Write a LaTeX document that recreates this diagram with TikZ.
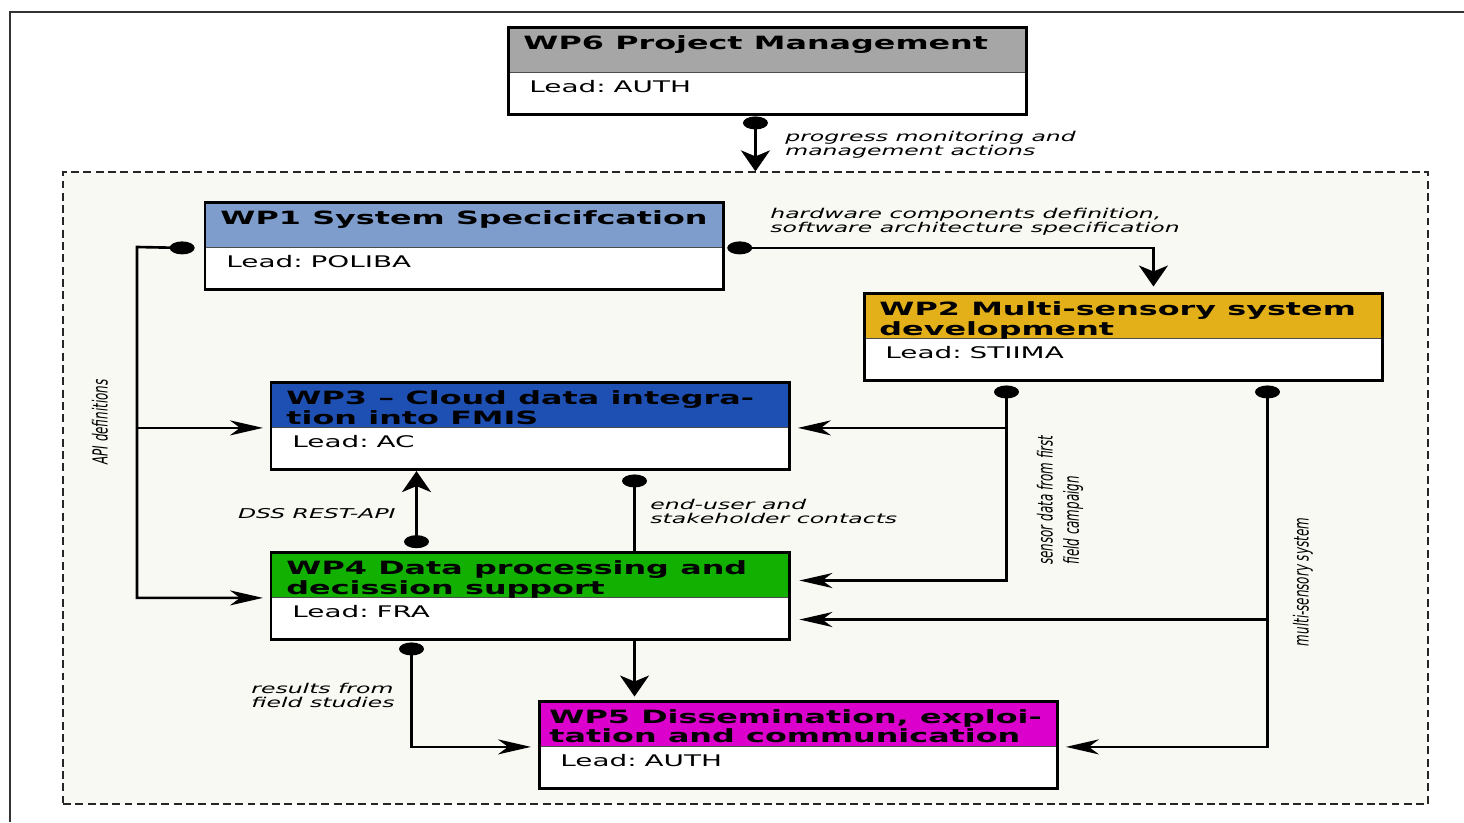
\documentclass[tikz,border=0pt]{standalone}
\usepackage{fontspec}
\setmainfont{DejaVu Sans}[FakeStretch=1.74]
\newfontfamily\narrowfont{DejaVu Sans}[FakeStretch=0.575]
\usetikzlibrary{arrows.meta, positioning, fit, calc, shapes.geometric}
\definecolor{colMgmt}{RGB}{166,166,166}
\definecolor{colSpec}{RGB}{127,157,204}
\definecolor{colSensor}{RGB}{228,176,26}
\definecolor{colCloud}{RGB}{30,80,180}
\definecolor{colDSS}{RGB}{18,176,0}
\definecolor{colDiss}{RGB}{220,0,204}
\definecolor{colZone}{RGB}{249,249,244}
\tikzset{
  % header strip of a work package
  wpHead/.style={
    rectangle, anchor=north west,
    draw=black!70, line width=0.5pt, fill=#1,
    minimum width=10.36cm, text width=9.76cm,
    inner xsep=0.3cm, inner ysep=0pt,
    text height=0.44cm, text depth=0.46cm,
    align=left, font=\fontsize{10.4}{9.7}\selectfont\bfseries,
    execute at begin node={\spaceskip=0.62em plus 0.1em\relax},
  },
  % lead partner line under the header
  wpLead/.style={
    rectangle, fill=white,
    minimum width=10.36cm, text width=9.52cm,
    inner xsep=0.42cm, inner ysep=0pt,
    text height=0.38cm, text depth=0.44cm,
    align=left, font=\fontsize{9.1}{11}\selectfont,
  },
  % thick frame round header + lead
  wpFrame/.style={draw=black, line width=1.7pt, inner sep=0pt},
  % dashed area holding WP1--WP5
  zone/.style={
    rectangle, draw=black!85, line width=0.7pt,
    dash pattern=on 4.5pt off 2.5pt, fill=colZone,
    minimum width=27.3cm, minimum height=12.64cm, inner sep=0pt,
  },
  % connectors
  linkDot/.style={ellipse, fill=black, inner sep=0pt,
                  minimum width=0.5cm, minimum height=0.26cm},
  link/.style={draw=black, line width=1.5pt},
  hArr/.style={-{Stealth[length=0.66cm, width=0.3cm, inset=0.2cm]}},
  vArr/.style={-{Stealth[length=0.42cm, width=0.58cm, inset=0.12cm]}},
  % labels
  note/.style={inner sep=0pt, align=left,
               font=\fontsize{7.7}{8}\selectfont\itshape},
  sideNote/.style={inner sep=0pt, align=left, rotate=90,
                   font=\narrowfont\fontsize{11.8}{15}\selectfont\itshape},
}

\begin{document}
\begin{tikzpicture}[node distance=0.2cm]
\useasboundingbox (0,0) rectangle (29.28,-16.44);
\draw[black!80, line width=0.6pt] (0.2,-16.44) |- (29.28,-0.24);

% ═══════════════════════════════════════════════════════════════════════════
%  WORK PACKAGE AREA
% ═══════════════════════════════════════════════════════════════════════════
\node[zone] (zone) at (14.91,-9.76) {};

% ═══════════════════════════════════════════════════════════════════════════
%  WP6 – Project Management
% ═══════════════════════════════════════════════════════════════════════════
\node[wpHead=colMgmt] (wp6h) at (10.16,-0.54) {WP6 Project Management};
\node[wpLead, below=0pt of wp6h] (wp6l) {Lead: AUTH};
\node[wpFrame, fit=(wp6h)(wp6l)] (wp6) {};

% ═══════════════════════════════════════════════════════════════════════════
%  WP1 – System Specification
% ═══════════════════════════════════════════════════════════════════════════
\node[wpHead=colSpec] (wp1h) at (4.10,-4.04) {WP1 System Specicifcation};
\node[wpLead, below=0pt of wp1h] (wp1l) {Lead: POLIBA};
\node[wpFrame, fit=(wp1h)(wp1l)] (wp1) {};

% ═══════════════════════════════════════════════════════════════════════════
%  WP2 – Multi-sensory system
% ═══════════════════════════════════════════════════════════════════════════
\node[wpHead=colSensor] (wp2h) at (17.28,-5.86)
  {WP2 Multi-sensory system\\development};
\node[wpLead, below=0pt of wp2h] (wp2l) {Lead: STIIMA};
\node[wpFrame, fit=(wp2h)(wp2l)] (wp2) {};

% ═══════════════════════════════════════════════════════════════════════════
%  WP3 – Cloud data integration
% ═══════════════════════════════════════════════════════════════════════════
\node[wpHead=colCloud] (wp3h) at (5.42,-7.64)
  {WP3 – Cloud data integra-\\tion into FMIS};
\node[wpLead, below=0pt of wp3h] (wp3l) {Lead: AC};
\node[wpFrame, fit=(wp3h)(wp3l)] (wp3) {};

% ═══════════════════════════════════════════════════════════════════════════
%  WP4 – Data processing
% ═══════════════════════════════════════════════════════════════════════════
\node[wpHead=colDSS] (wp4h) at (5.42,-11.04)
  {WP4 Data processing and\\decission support};
\node[wpLead, below=0pt of wp4h] (wp4l) {Lead: FRA};
\node[wpFrame, fit=(wp4h)(wp4l)] (wp4) {};

% ═══════════════════════════════════════════════════════════════════════════
%  WP5 – Dissemination
% ═══════════════════════════════════════════════════════════════════════════
\node[wpHead=colDiss, inner xsep=0.2cm, text width=9.96cm] (wp5h)
  at (10.78,-14.02) {WP5 Dissemination, exploi-\\tation and communication};
\node[wpLead, below=0pt of wp5h] (wp5l) {Lead: AUTH};
\node[wpFrame, fit=(wp5h)(wp5l)] (wp5) {};

% ═══════════════════════════════════════════════════════════════════════════
%  START DOTS
% ═══════════════════════════════════════════════════════════════════════════
\node[linkDot, below=0pt of wp6.south, xshift=-0.24cm] (d6) {};
\node[linkDot, left=0.2cm of wp1h.south west] (d1l) {};
\node[linkDot, right=0.06cm of wp1h.south east] (d1r) {};
\node[linkDot, below=0.06cm of wp2.south west, xshift=2.88cm] (d2a) {};
\node[linkDot, below=0.06cm of wp2.south west, xshift=8.1cm] (d2b) {};
\node[linkDot, below=0.06cm of wp3.south west, xshift=7.3cm] (d3) {};
\node[linkDot, above=0.04cm of wp4.north west, xshift=2.94cm] (d4u) {};
\node[linkDot, below=0.02cm of wp4.south west, xshift=2.84cm] (d4d) {};

\coordinate (apiBus) at (2.74,-4.94);
\coordinate (hwDrop) at ($(wp2.north)+(0.6,0)$);
\coordinate (wp4Up)  at ($(wp4.north east)+(0,-0.6)$);
\coordinate (wp4Low) at ($(wp4.north east)+(0,-1.38)$);

% ═══════════════════════════════════════════════════════════════════════════
%  CONNECTORS
% ═══════════════════════════════════════════════════════════════════════════
% management actions down into the work package area
\draw[link, vArr] (d6.center) -- (d6.center |- zone.north);

% API definitions to WP3 and WP4
\draw[link, hArr, shorten >=0.16cm] (d1l.center) -- (apiBus) |- (wp4h.south west);
\draw[link, hArr, shorten >=0.16cm] (apiBus |- wp3h.south west) -- (wp3h.south west);

% specification to WP2
\draw[link, vArr, shorten >=0.1cm] (d1r.center) -| (hwDrop);

% sensor data to WP3 and WP4
\draw[link, hArr, shorten >=0.16cm] (d2a.center) |- (wp4Up);
\draw[link, hArr, shorten >=0.16cm] (d2a.center |- wp3h.south east) -- (wp3h.south east);

% multi-sensory system to WP4 and WP5
\draw[link, hArr, shorten >=0.16cm] (d2b.center) |- (wp5h.south east);
\draw[link, hArr, shorten >=0.16cm] (d2b.center |- wp4Low) -- (wp4Low);

% WP3 <-> WP4
\draw[link] (d3.center) -- (d3.center |- wp4.north);
\draw[link, vArr] (d4u.center) -- (d4u.center |- wp3.south);

% WP4 -> WP5
\draw[link, vArr, shorten >=0.06cm] (d3.center |- wp4.south) -- (d3.center |- wp5.north);
\draw[link, hArr, shorten >=0.16cm] (d4d.center) |- (wp5h.south west);

% ═══════════════════════════════════════════════════════════════════════════
%  LABELS
% ═══════════════════════════════════════════════════════════════════════════
\node[note, anchor=north west] (mgmtNote) at (15.7,-2.62)
  {progress monitoring and\\management actions};
\node[note, anchor=north west] (hwNote) at (15.4,-4.16)
  {hardware components definition,\\software architecture specification};
\node[note, anchor=east] (dssNote) at (7.92,-10.28) {DSS REST-API};
\node[note, anchor=north west] (userNote) at (13.0,-9.98)
  {end-user and\\stakeholder contacts};
\node[note, anchor=north west] (fieldNote) at (5.02,-13.66)
  {results from\\field studies};
\node[sideNote] (apiNote) at (2.0,-8.44) {API definitions};
\node[sideNote] (sensNote) at (21.2,-10.0)
  {sensor data from first\\field campaign};
\node[sideNote] (msNote) at (26.06,-11.64) {multi-sensory system};

\end{tikzpicture}
\end{document}
